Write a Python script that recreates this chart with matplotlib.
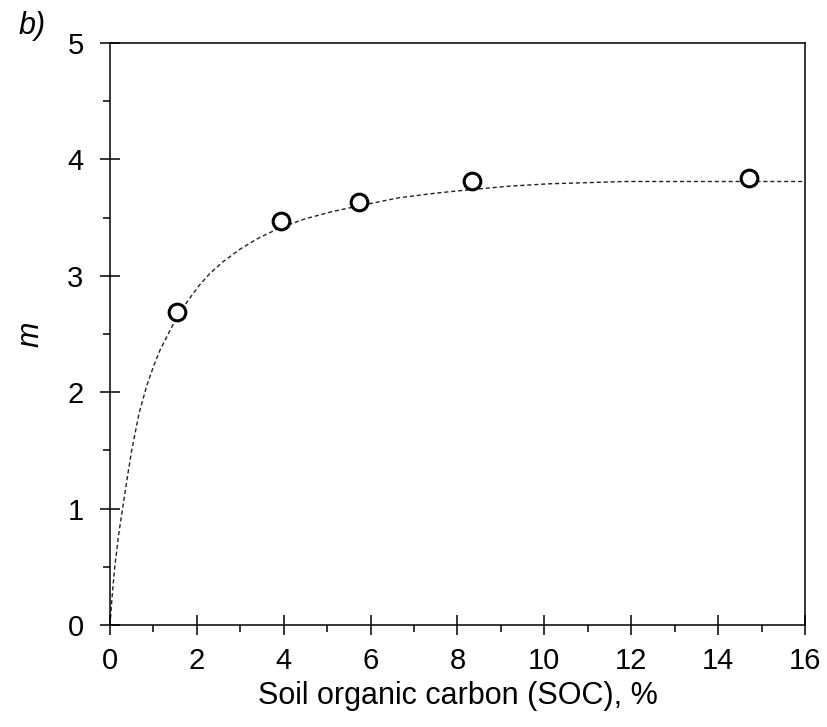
import matplotlib
matplotlib.use("Agg")
import matplotlib.pyplot as plt
from matplotlib.ticker import MultipleLocator

plt.rcParams['font.family'] = ['Liberation Sans', 'DejaVu Sans']

# measured points (SOC %, m)
soc = [1.55, 3.93, 5.74, 8.33, 14.7]
m_val = [2.69, 3.47, 3.63, 3.81, 3.84]

# fitted curve
fit_x = [0, 0.05, 0.11, 0.2, 0.29, 0.4, 0.5, 0.67, 0.85, 1.0, 1.15, 1.38, 1.55,
         1.8, 2.06, 2.3, 2.6, 3.0, 3.4, 3.9, 4.5, 5.1, 5.72, 6.65, 7.5, 8.3,
         9.2, 10.1, 11.0, 11.85, 13.0, 14.0, 15.0, 16.0]
fit_y = [0, 0.25, 0.5, 0.78, 1.0, 1.27, 1.5, 1.82, 2.06, 2.22, 2.36, 2.53, 2.65,
         2.79, 2.92, 3.02, 3.12, 3.23, 3.32, 3.41, 3.49, 3.55, 3.60, 3.67, 3.71, 3.74,
         3.77, 3.79, 3.80, 3.81, 3.81, 3.81, 3.81, 3.81]

fig = plt.figure(figsize=(8.27, 7.27), dpi=100)
ax = fig.add_axes([0.133, 0.1403, 0.8404, 0.8006])

ax.plot(fit_x, fit_y, color='#222222', lw=1.0, ls=(0, (3, 2)), zorder=2)
ax.plot(soc, m_val, 'o', ms=12, mfc='white', mec='black', mew=2.2, zorder=3)

ax.set_xlim(0, 16)
ax.set_ylim(0, 5)
ax.xaxis.set_major_locator(MultipleLocator(2))
ax.xaxis.set_minor_locator(MultipleLocator(1))
ax.yaxis.set_major_locator(MultipleLocator(1))
ax.yaxis.set_minor_locator(MultipleLocator(0.5))

for s in ax.spines.values():
    s.set_linewidth(1.1)
ax.tick_params(which='major', direction='inout', length=14, width=1.1,
               labelsize=21)
ax.tick_params(axis='x', which='major', pad=9)
ax.tick_params(axis='y', which='major', pad=12)
ax.tick_params(which='minor', direction='out', length=5, width=1.1)
ax.tick_params(top=False, right=False, which='both')

ax.set_xlabel('Soil organic carbon (SOC), %', fontsize=22, labelpad=4)
ax.set_ylabel('m', fontsize=22, style='italic', labelpad=16)
fig.text(0.022, 0.985, 'b)', fontsize=22, style='italic', va='top')

fig.savefig('out.png', dpi=100)
